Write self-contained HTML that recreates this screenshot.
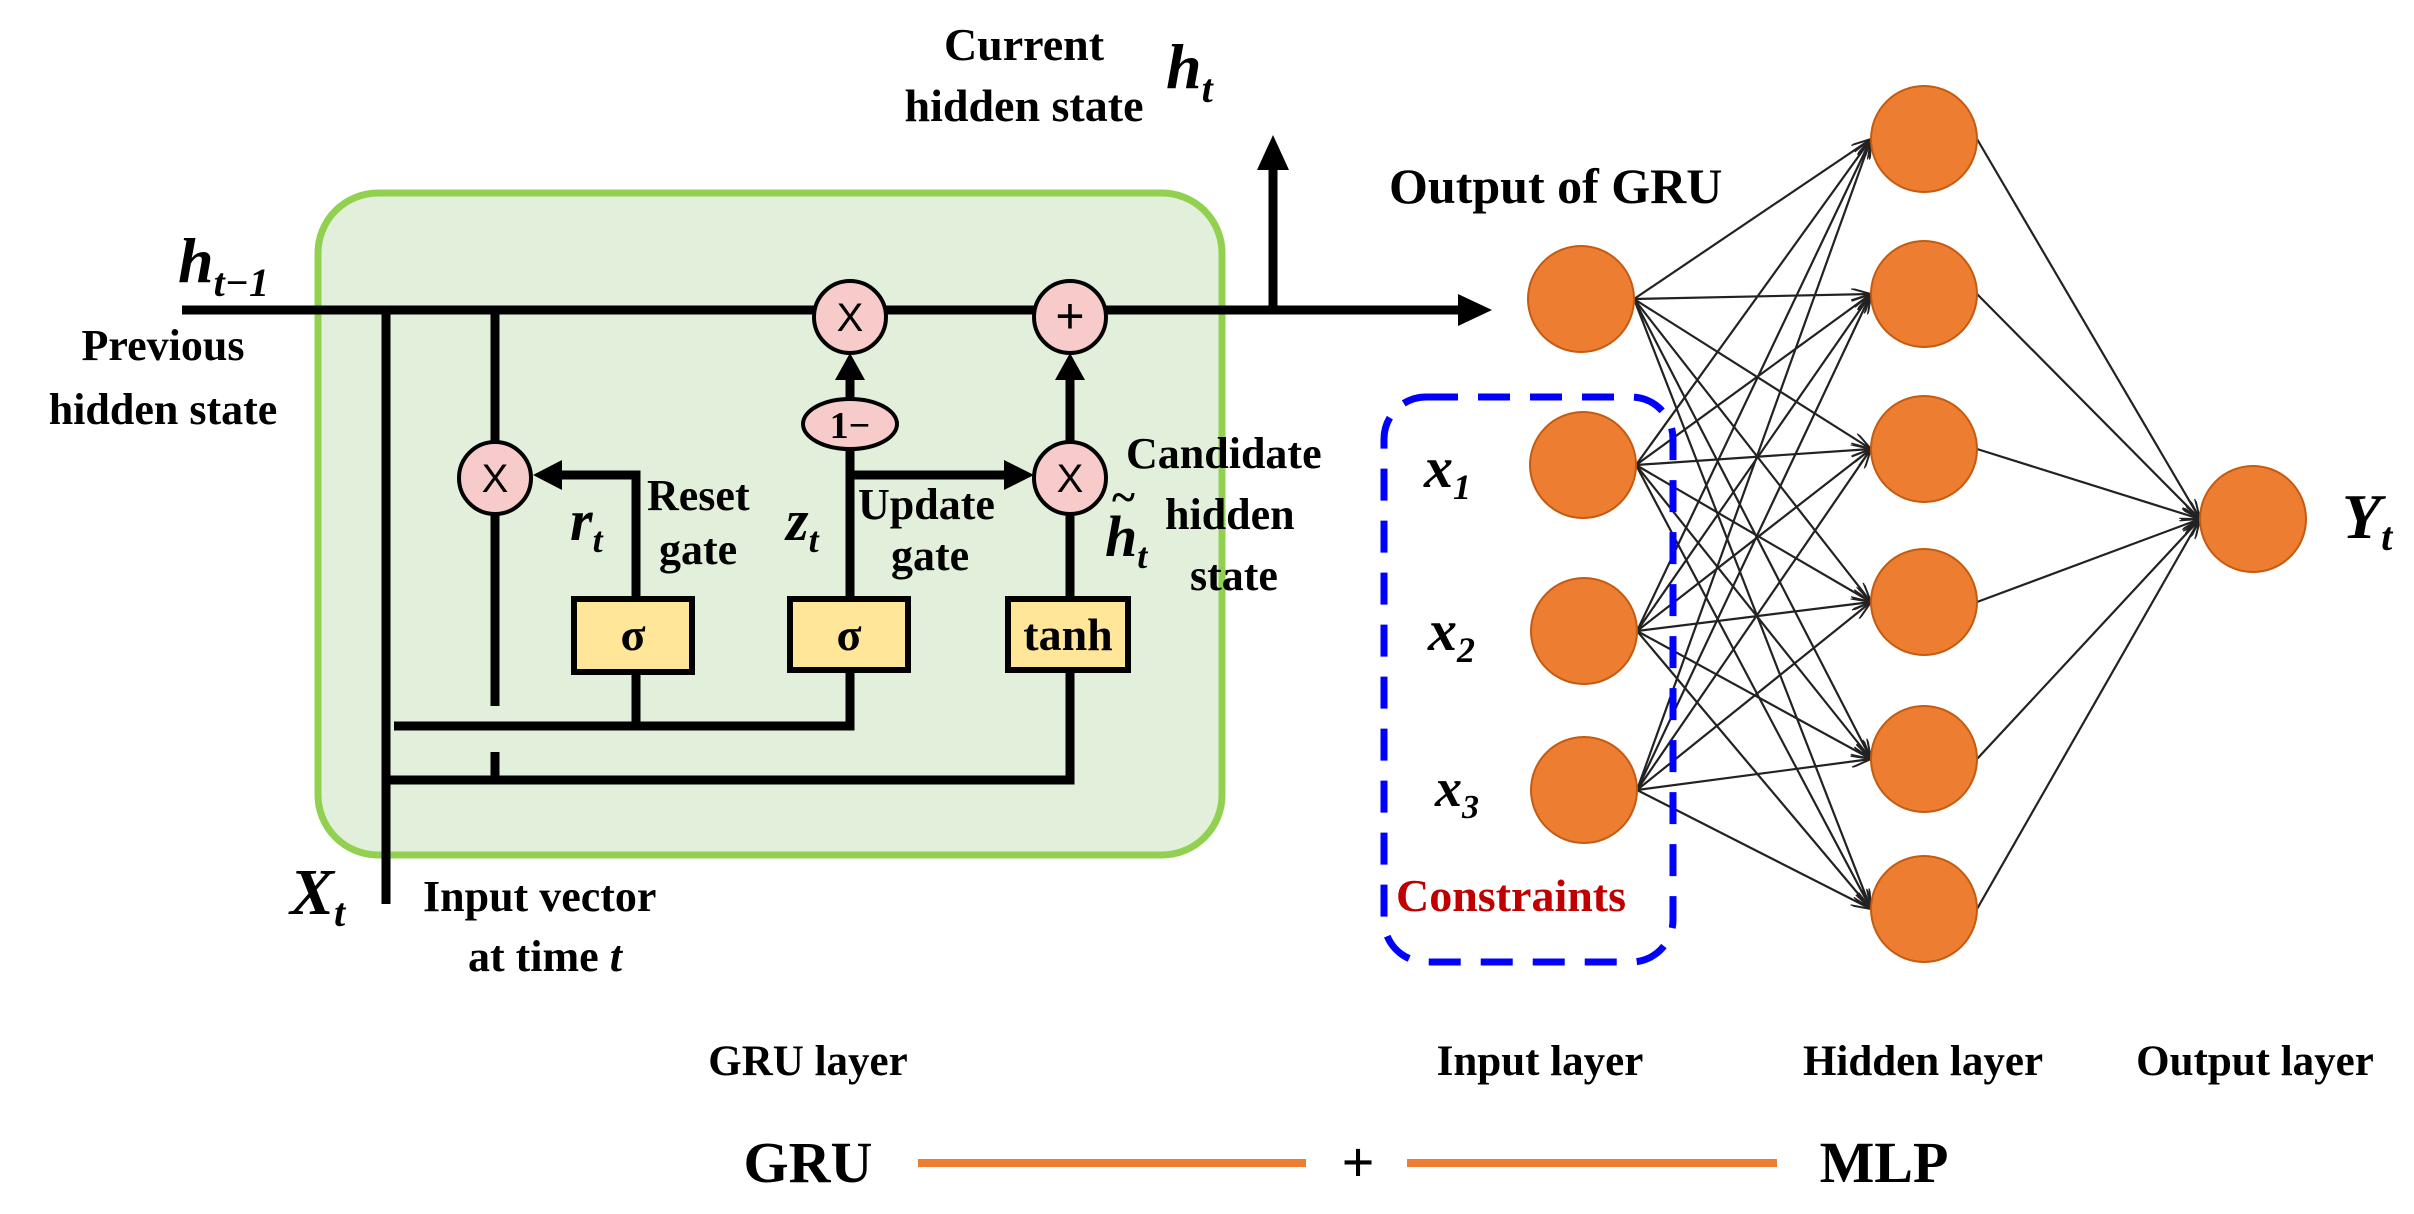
<!DOCTYPE html>
<html><head><meta charset="utf-8"><style>
html,body{margin:0;padding:0;background:#fff}
svg{display:block}
text{font-family:"Liberation Serif",serif;font-weight:bold;fill:#000}
.i{font-style:italic}
</style></head><body>
<svg width="2414" height="1214" viewBox="0 0 2414 1214" xmlns="http://www.w3.org/2000/svg">
<defs>
<marker id="a" viewBox="0 0 20 12" refX="20" refY="6" markerWidth="20" markerHeight="12" markerUnits="userSpaceOnUse" orient="auto">
<path d="M0,0 L20,6 L0,12" fill="none" stroke="#222" stroke-width="2"/>
</marker>
</defs>
<rect x="318" y="193" width="904" height="662" rx="60" fill="#e2efda" stroke="#92d050" stroke-width="7"/>
<g stroke="#000" stroke-width="9" fill="none">
<line x1="182" y1="310" x2="1462" y2="310"/>
<line x1="1273" y1="310" x2="1273" y2="165"/>
<line x1="386" y1="310" x2="386" y2="904"/>
<line x1="495" y1="310" x2="495" y2="706"/>
<line x1="495" y1="752" x2="495" y2="778"/>
<polyline points="394,726 850,726 850,672"/>
<line x1="636" y1="726" x2="636" y2="672"/>
<polyline points="386,780 1070,780 1070,672"/>
<polyline points="636,597 636,475 560,475"/>
<line x1="850" y1="597" x2="850" y2="448"/>
<line x1="850" y1="400" x2="850" y2="372"/>
<line x1="850" y1="475" x2="1010" y2="475"/>
<line x1="1070" y1="597" x2="1070" y2="514"/>
<line x1="1070" y1="442" x2="1070" y2="372"/>
</g>
<g fill="#000">
<polygon points="1492,310 1458,294 1458,326"/>
<polygon points="1273,135 1257,170 1289,170"/>
<polygon points="533,475 562,460 562,490"/>
<polygon points="1034,475 1004,460 1004,490"/>
<polygon points="850,353 835,380 865,380"/>
<polygon points="1070,353 1055,380 1085,380"/>
</g>
<g fill="#f8cbcb" stroke="#000" stroke-width="4">
<ellipse cx="495" cy="478" rx="36" ry="36"/>
<ellipse cx="850" cy="317" rx="36" ry="36"/>
<ellipse cx="1070" cy="317" rx="36" ry="36"/>
<ellipse cx="1070" cy="478" rx="36" ry="36"/>
<ellipse cx="850" cy="424" rx="47" ry="25"/>
</g>
<g text-anchor="middle">
<text x="495" y="492" style="font-family:'Liberation Sans',sans-serif;font-weight:normal;font-size:40px">X</text>
<text x="850" y="331" style="font-family:'Liberation Sans',sans-serif;font-weight:normal;font-size:40px">X</text>
<text x="1070" y="492" style="font-family:'Liberation Sans',sans-serif;font-weight:normal;font-size:40px">X</text>
<text x="1070" y="333" style="font-family:'Liberation Sans',sans-serif;font-weight:normal;font-size:50px">+</text>
</g>
<text x="850" y="438" font-size="38" text-anchor="middle">1−</text>
<g fill="#ffe699" stroke="#000" stroke-width="6">
<rect x="574" y="599" width="118" height="73"/>
<rect x="790" y="599" width="118" height="71"/>
<rect x="1008" y="599" width="120" height="71"/>
</g>
<text x="633" y="650" font-size="46" text-anchor="middle">σ</text>
<text x="849" y="650" font-size="46" text-anchor="middle">σ</text>
<text x="1068" y="650" font-size="46" text-anchor="middle">tanh</text>
<text x="1024" y="60" font-size="46" text-anchor="middle">Current</text>
<text x="1024" y="121" font-size="46" text-anchor="middle">hidden state</text>
<text x="1166" y="88" font-size="64" class="i">h<tspan font-size="40" dy="14">t</tspan></text>
<text x="178" y="282" font-size="64" class="i">h<tspan font-size="40" dy="14">t−1</tspan></text>
<text x="163" y="360" font-size="44" text-anchor="middle">Previous</text>
<text x="163" y="424" font-size="44" text-anchor="middle">hidden state</text>
<text x="570" y="540" font-size="58" class="i">r<tspan font-size="36" dy="12">t</tspan></text>
<text x="647" y="510" font-size="44">Reset</text>
<text x="659" y="564" font-size="44">gate</text>
<text x="786" y="540" font-size="58" class="i">z<tspan font-size="36" dy="12">t</tspan></text>
<text x="858" y="519" font-size="44">Update</text>
<text x="891" y="570" font-size="44">gate</text>
<text x="1105" y="556" font-size="58" class="i">h<tspan font-size="36" dy="12">t</tspan></text>
<text x="1112" y="512" font-size="44">~</text>
<text x="1126" y="468" font-size="44">Candidate</text>
<text x="1165" y="529" font-size="44">hidden</text>
<text x="1190" y="590" font-size="44">state</text>
<text x="290" y="914" font-size="66" class="i">X<tspan font-size="40" dy="12">t</tspan></text>
<text x="423" y="911" font-size="44">Input vector</text>
<text x="468" y="971" font-size="44">at time <tspan class="i">t</tspan></text>
<g stroke="#222" stroke-width="2.2" marker-end="url(#a)">
<line x1="1634" y1="299" x2="1871" y2="139"/><line x1="1634" y1="299" x2="1871" y2="294"/><line x1="1634" y1="299" x2="1871" y2="449"/><line x1="1634" y1="299" x2="1871" y2="602"/><line x1="1634" y1="299" x2="1871" y2="759"/><line x1="1634" y1="299" x2="1871" y2="909"/>
<line x1="1636" y1="465" x2="1871" y2="139"/><line x1="1636" y1="465" x2="1871" y2="294"/><line x1="1636" y1="465" x2="1871" y2="449"/><line x1="1636" y1="465" x2="1871" y2="602"/><line x1="1636" y1="465" x2="1871" y2="759"/><line x1="1636" y1="465" x2="1871" y2="909"/>
<line x1="1637" y1="631" x2="1871" y2="139"/><line x1="1637" y1="631" x2="1871" y2="294"/><line x1="1637" y1="631" x2="1871" y2="449"/><line x1="1637" y1="631" x2="1871" y2="602"/><line x1="1637" y1="631" x2="1871" y2="759"/><line x1="1637" y1="631" x2="1871" y2="909"/>
<line x1="1637" y1="790" x2="1871" y2="139"/><line x1="1637" y1="790" x2="1871" y2="294"/><line x1="1637" y1="790" x2="1871" y2="449"/><line x1="1637" y1="790" x2="1871" y2="602"/><line x1="1637" y1="790" x2="1871" y2="759"/><line x1="1637" y1="790" x2="1871" y2="909"/>
<line x1="1977" y1="139" x2="2200" y2="519"/><line x1="1977" y1="294" x2="2200" y2="519"/><line x1="1977" y1="449" x2="2200" y2="519"/><line x1="1977" y1="602" x2="2200" y2="519"/><line x1="1977" y1="759" x2="2200" y2="519"/><line x1="1977" y1="909" x2="2200" y2="519"/>
</g>
<g fill="#ed7d31" stroke="#c55a11" stroke-width="2">
<circle cx="1581" cy="299" r="53"/><circle cx="1583" cy="465" r="53"/><circle cx="1584" cy="631" r="53"/><circle cx="1584" cy="790" r="53"/>
<circle cx="1924" cy="139" r="53"/><circle cx="1924" cy="294" r="53"/><circle cx="1924" cy="449" r="53"/><circle cx="1924" cy="602" r="53"/><circle cx="1924" cy="759" r="53"/><circle cx="1924" cy="909" r="53"/>
<circle cx="2253" cy="519" r="53"/>
</g>
<rect x="1384" y="397" width="289" height="565" rx="42" fill="none" stroke="#0000ff" stroke-width="7" stroke-dasharray="32,20"/>
<text x="1389" y="203" font-size="50">Output of GRU</text>
<text x="1424" y="487" font-size="58" class="i">x<tspan font-size="36" dy="12">1</tspan></text>
<text x="1428" y="650" font-size="58" class="i">x<tspan font-size="36" dy="12">2</tspan></text>
<text x="1435" y="806" font-size="54" class="i">x<tspan font-size="34" dy="12">3</tspan></text>
<text x="1396" y="911" font-size="46" style="fill:#c00000">Constraints</text>
<text x="2342" y="538" font-size="64" class="i">Y<tspan font-size="40" dy="12">t</tspan></text>
<g font-size="43" text-anchor="middle">
<text x="808" y="1075">GRU layer</text>
<text x="1540" y="1075">Input layer</text>
<text x="1923" y="1075">Hidden layer</text>
<text x="2255" y="1075">Output layer</text>
</g>
<text x="808" y="1182" font-size="58" text-anchor="middle">GRU</text>
<text x="1884" y="1182" font-size="58" text-anchor="middle">MLP</text>
<text x="1358" y="1182" font-size="58" text-anchor="middle">+</text>
<g stroke="#ed7d31" stroke-width="8">
<line x1="918" y1="1163" x2="1306" y2="1163"/>
<line x1="1407" y1="1163" x2="1777" y2="1163"/>
</g>
</svg>
</body></html>
